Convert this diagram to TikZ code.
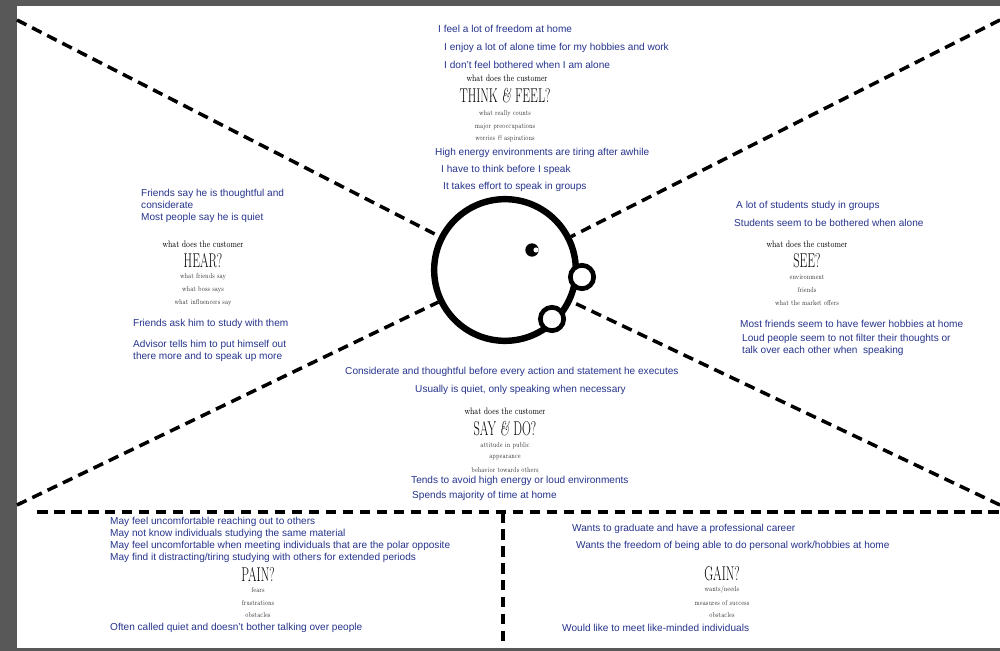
\documentclass[tikz,border=0pt]{standalone}
\usepackage{fontspec}
\setsansfont{Liberation Sans}
\usetikzlibrary{positioning}
\definecolor{ink}{RGB}{38,52,140}
\definecolor{frame}{RGB}{88,88,88}
\tikzset{
  note/.style={anchor=west, inner sep=0pt, text=ink, font=\sffamily\fontsize{8.6}{10.6}\selectfont, align=left},
  ask/.style={inner sep=0pt, font=\fontsize{8}{9}\selectfont, xscale=0.78},
  big/.style={inner sep=0pt, font=\fontsize{17}{18}\selectfont, xscale=0.62},
  hint/.style={inner sep=0pt, text=black!80, font=\fontsize{6.2}{7}\selectfont, xscale=0.72},
  cut/.style={line width=3pt, dash pattern=on 9pt off 5.5pt},
}
\begin{document}
\begin{tikzpicture}[x=0.03cm, y=-0.03cm]
  \fill[frame] (0,0) rectangle (1000,651);
  \fill[white] (17,6) rectangle (1000,648);
  \useasboundingbox (0,0) rectangle (1000,651);

  % the face
  \node (face) [circle, draw, line width=5.5pt, minimum size=4.25cm] at (505,270) {};
  \node (eye) [circle, fill, inner sep=0pt, minimum size=0.4cm] at (532,250) {};
  \fill[white] (536,250) circle (2.6);
  \node (ear) [circle, draw, fill=white, line width=4pt, minimum size=0.7cm] at (582,277) {};
  \node (mouth) [circle, draw, fill=white, line width=4pt, minimum size=0.7cm] at (552,319) {};

  % corners
  \coordinate (tl) at (17,20);
  \coordinate (tr) at (1000,20);
  \coordinate (bl) at (17,505);
  \coordinate (br) at (1000,505);
  \coordinate (hl) at (37,512);
  \coordinate (hr) at (1000,512);
  \coordinate (vt) at (503,512);
  \coordinate (vb) at (503,642);
  \draw[cut] (tl) -- (face);
  \draw[cut] (tr) -- (face);
  \draw[cut] (bl) -- (face);
  \draw[cut] (br) -- (face);
  \draw[cut] (hl) -- (hr);
  \draw[cut] (vt) -- (vb);

  % think & feel
  \node (t1) [note] at (438,29) {I feel a lot of freedom at home};
  \node (t2) [note] at (444,48) {I enjoy a lot of alone time for my hobbies and work};
  \node (t3) [note] at (444,65) {I don't feel bothered when I am alone};
  \node (thinkQ) [ask] at (507,78) {what does the customer};
  \node (think) [big] at (505,96) {THINK \textit{\&} FEEL?};
  \node (thinkA) [hint] at (505,114) {what really counts};
  \node (thinkB) [hint] at (505,127) {major preoccupations};
  \node (thinkC) [hint] at (505,139) {worries \textit{\&} aspirations};
  \node (t4) [note] at (435,153) {High energy environments are tiring after awhile};
  \node (t5) [note] at (441,170) {I have to think before I speak};
  \node (t6) [note] at (443,187) {It takes effort to speak in groups};

  % hear
  \node (h1) [note] at (141,199) {Friends say he is thoughtful and\\considerate};
  \node (h2) [note] at (141,218) {Most people say he is quiet};
  \node (hearQ) [ask] at (203,244) {what does the customer};
  \node (hear) [big] at (203,261) {HEAR?};
  \node (hearA) [hint] at (203,277) {what friends say};
  \node (hearB) [hint] at (203,290) {what boss says};
  \node (hearC) [hint] at (203,303) {what influencers say};
  \node (h3) [note] at (133,324) {Friends ask him to study with them};
  \node (h4) [note] at (133,351) {Advisor tells him to put himself out\\there more and to speak up more};

  % see
  \node (s1) [note] at (736,206) {A lot of students study in groups};
  \node (s2) [note] at (734,223) {Students seem to be bothered when alone};
  \node (seeQ) [ask] at (807,244) {what does the customer};
  \node (see) [big] at (807,261) {SEE?};
  \node (seeA) [hint] at (807,277) {environment};
  \node (seeB) [hint] at (807,290) {friends};
  \node (seeC) [hint] at (807,303) {what the market offers};
  \node (s3) [note] at (740,324) {Most friends seem to have fewer hobbies at home};
  \node (s4) [note] at (742,345) {Loud people seem to not filter their thoughts or\\talk over each other when\ \ speaking};

  % say & do
  \node (d1) [note] at (345,372) {Considerate and thoughtful before every action and statement he executes};
  \node (d2) [note] at (415,390) {Usually is quiet, only speaking when necessary};
  \node (sayQ) [ask] at (505,411) {what does the customer};
  \node (say) [big] at (505,429) {SAY \textit{\&} DO?};
  \node (sayA) [hint] at (505,446) {attitude in public};
  \node (sayB) [hint] at (505,458) {appearance};
  \node (sayC) [hint] at (505,470) {behavior towards others};
  \node (d3) [note] at (411,481) {Tends to avoid high energy or loud environments};
  \node (d4) [note] at (412,496) {Spends majority of time at home};

  % pain
  \node (p1) [note] at (110,522) {May feel uncomfortable reaching out to others};
  \node (p2) [note] at (110,534) {May not know individuals studying the same material};
  \node (p3) [note] at (110,546) {May feel uncomfortable when meeting individuals that are the polar opposite};
  \node (p4) [note] at (110,558) {May find it distracting/tiring studying with others for extended periods};
  \node (pain) [big] at (258,574) {PAIN?};
  \node (painA) [hint] at (258,590) {fears};
  \node (painB) [hint] at (258,603) {frustrations};
  \node (painC) [hint] at (258,615) {obstacles};
  \node (p5) [note] at (110,628) {Often called quiet and doesn't bother talking over people};

  % gain
  \node (g1) [note] at (572,529) {Wants to graduate and have a professional career};
  \node (g2) [note] at (576,546) {Wants the freedom of being able to do personal work/hobbies at home};
  \node (gain) [big] at (722,574) {GAIN?};
  \node (gainA) [hint] at (722,590) {wants/needs};
  \node (gainB) [hint] at (722,603) {measures of success};
  \node (gainC) [hint] at (722,615) {obstacles};
  \node (g3) [note] at (562,628) {Would like to meet like-minded individuals};
\end{tikzpicture}
\end{document}
